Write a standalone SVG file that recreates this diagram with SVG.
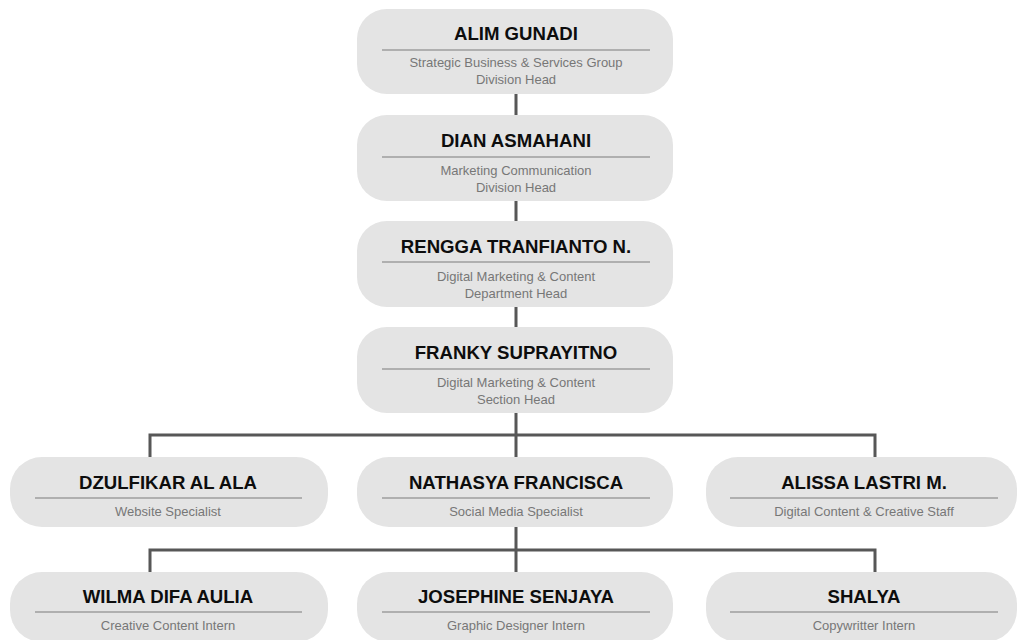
<svg xmlns="http://www.w3.org/2000/svg" width="1017" height="640" viewBox="0 0 1017 640">
<style>
.box{fill:#e4e4e4}
.sep{stroke:#7a7a7a;stroke-width:1.2}
.name{font-family:"Liberation Sans",Arial,sans-serif;font-weight:bold;font-size:18.6px;fill:#0d0d0d;text-anchor:middle}
.role{font-family:"Liberation Sans",Arial,sans-serif;font-size:13px;fill:#777;text-anchor:middle}
.conn{stroke:#575757;stroke-width:3;fill:none}
</style>
<rect width="1017" height="640" fill="#fff"/>
<g id="connectors">
<path class="conn" d="M516 94V116M516 201V222M516 306V328M516 412V457M150 457V435H875V457M516 527V572M150 572V550H875V572"/>
</g>
<g id="n1">
<rect class="box" x="357" y="9" width="316" height="85" rx="30"/>
<text class="name" x="516" y="40">ALIM GUNADI</text>
<line class="sep" x1="382" y1="50" x2="650" y2="50"/>
<text class="role" x="516" y="67">Strategic Business &amp; Services Group</text>
<text class="role" x="516" y="84">Division Head</text>
</g>
<g id="n2">
<rect class="box" x="357" y="115" width="316" height="86" rx="30"/>
<text class="name" x="516" y="147">DIAN ASMAHANI</text>
<line class="sep" x1="382" y1="157" x2="650" y2="157"/>
<text class="role" x="516" y="175">Marketing Communication</text>
<text class="role" x="516" y="192">Division Head</text>
</g>
<g id="n3">
<rect class="box" x="357" y="221" width="316" height="86" rx="30"/>
<text class="name" x="516" y="253">RENGGA TRANFIANTO N.</text>
<line class="sep" x1="382" y1="262" x2="650" y2="262"/>
<text class="role" x="516" y="281">Digital Marketing &amp; Content</text>
<text class="role" x="516" y="298">Department Head</text>
</g>
<g id="n4">
<rect class="box" x="357" y="327" width="316" height="86" rx="30"/>
<text class="name" x="516" y="359">FRANKY SUPRAYITNO</text>
<line class="sep" x1="382" y1="369" x2="650" y2="369"/>
<text class="role" x="516" y="387">Digital Marketing &amp; Content</text>
<text class="role" x="516" y="404">Section Head</text>
</g>
<g id="n5">
<rect class="box" x="10" y="457" width="318" height="70" rx="32"/>
<text class="name" x="168" y="489">DZULFIKAR AL ALA</text>
<line class="sep" x1="35" y1="498" x2="302" y2="498"/>
<text class="role" x="168" y="516">Website Specialist</text>
</g>
<g id="n6">
<rect class="box" x="357" y="457" width="316" height="70" rx="32"/>
<text class="name" x="516" y="489">NATHASYA FRANCISCA</text>
<line class="sep" x1="382" y1="498" x2="650" y2="498"/>
<text class="role" x="516" y="516">Social Media Specialist</text>
</g>
<g id="n7">
<rect class="box" x="706" y="457" width="311" height="70" rx="32"/>
<text class="name" x="864" y="489">ALISSA LASTRI M.</text>
<line class="sep" x1="730" y1="498" x2="998" y2="498"/>
<text class="role" x="864" y="516">Digital Content &amp; Creative Staff</text>
</g>
<g id="n8">
<rect class="box" x="10" y="572" width="318" height="70" rx="32"/>
<text class="name" x="168" y="603">WILMA DIFA AULIA</text>
<line class="sep" x1="35" y1="612" x2="302" y2="612"/>
<text class="role" x="168" y="630">Creative Content Intern</text>
</g>
<g id="n9">
<rect class="box" x="357" y="572" width="316" height="70" rx="32"/>
<text class="name" x="516" y="603">JOSEPHINE SENJAYA</text>
<line class="sep" x1="382" y1="612" x2="650" y2="612"/>
<text class="role" x="516" y="630">Graphic Designer Intern</text>
</g>
<g id="n10">
<rect class="box" x="706" y="572" width="311" height="70" rx="32"/>
<text class="name" x="864" y="603">SHALYA</text>
<line class="sep" x1="730" y1="612" x2="998" y2="612"/>
<text class="role" x="864" y="630">Copywritter Intern</text>
</g>
</svg>
